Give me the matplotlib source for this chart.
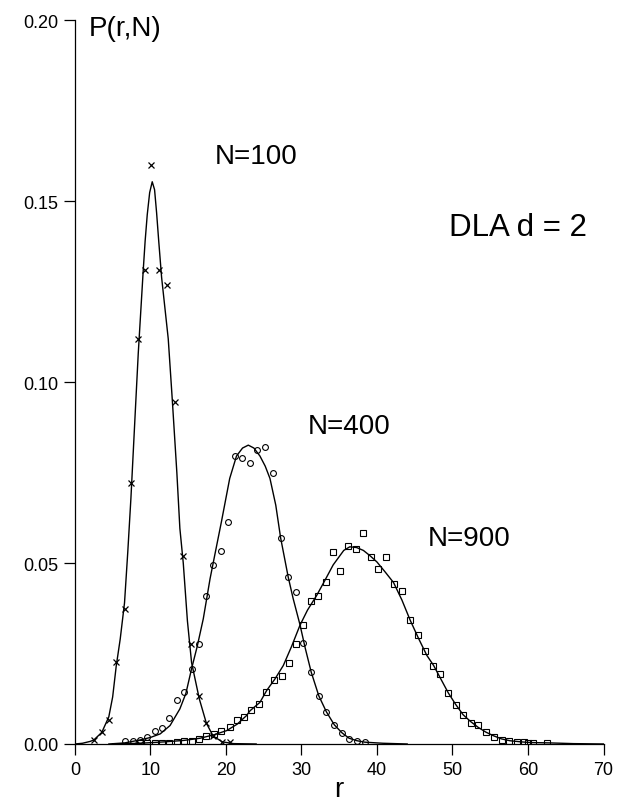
import matplotlib
matplotlib.use("Agg")
from matplotlib import pyplot as plt

plt.rcParams['font.family'] = ['Liberation Sans', 'DejaVu Sans']

# measured points, N=100 (crosses)
r100 = [2.5, 3.56, 4.49, 5.47, 6.57, 7.42, 8.3, 9.27, 10.07, 11.17, 12.2,
        13.25, 14.35, 15.36, 16.47, 17.4, 18.3, 19.5, 20.5]
p100 = [0.0011, 0.0032, 0.0067, 0.0226, 0.0372, 0.072, 0.112, 0.131, 0.160,
        0.131, 0.127, 0.0945, 0.052, 0.0276, 0.0134, 0.0058, 0.0021, 0.0006,
        0.0006]

# N=400 (circles)
r400 = [6.67, 7.64, 8.6, 9.58, 10.6, 11.57, 12.5, 13.55, 14.44, 15.45, 16.47,
        17.3, 18.3, 19.3, 20.3, 21.19, 22.16, 23.18, 24.15, 25.17, 26.2, 27.24,
        28.25, 29.27, 30.24, 31.3, 32.3, 33.3, 34.35, 35.36, 36.3, 37.35, 38.37]
p400 = [0.0007, 0.0007, 0.0012, 0.0019, 0.0035, 0.0043, 0.0071, 0.0122, 0.0143,
        0.0208, 0.0276, 0.0409, 0.0494, 0.0533, 0.0614, 0.0796, 0.079, 0.0776,
        0.0813, 0.0821, 0.0749, 0.057, 0.0461, 0.042, 0.0279, 0.0198, 0.0133,
        0.0089, 0.0053, 0.0031, 0.0014, 0.0009, 0.0006]

# N=900 (squares)
r900 = [8.6, 9.6, 10.6, 11.6, 12.5, 13.5, 14.4, 15.45, 16.47, 17.4, 18.4, 19.4,
        20.5, 21.4, 22.4, 23.3, 24.35, 25.3, 26.4, 27.4, 28.3, 29.3, 30.24,
        31.26, 32.2, 33.24, 34.2, 35.15, 36.2, 37.2, 38.2, 39.2, 40.2, 41.2,
        42.3, 43.35, 44.4, 45.4, 46.36, 47.4, 48.4, 49.45, 50.4, 51.4, 52.45,
        53.4, 54.5, 55.5, 56.5, 57.5, 58.5, 59.5, 60.0, 60.6, 62.5]
p900 = [0.0003, 0.0003, 0.0003, 0.0004, 0.0004, 0.0005, 0.0007, 0.0009, 0.0014,
        0.0023, 0.0028, 0.0035, 0.0047, 0.0065, 0.0074, 0.0094, 0.0111, 0.0145,
        0.0177, 0.0187, 0.0223, 0.0277, 0.033, 0.0395, 0.0408, 0.0448, 0.0532,
        0.0478, 0.0547, 0.054, 0.0584, 0.0518, 0.0485, 0.0518, 0.0442, 0.0424,
        0.0342, 0.030, 0.0258, 0.0215, 0.0193, 0.014, 0.0107, 0.0081, 0.0058,
        0.0053, 0.0032, 0.002, 0.0011, 0.0008, 0.0006, 0.0005, 0.0004, 0.0004,
        0.0003]

# fitted curves
c100_r = [0, 1.0, 2.0, 2.5, 3.56, 4.49, 5.0, 5.47, 6.0, 6.57, 7.0, 7.42, 8.0,
          8.39, 9.05, 9.3, 9.58, 9.9, 10.24, 10.55, 10.82, 11.1, 11.48, 12.36,
          12.9, 13.5, 13.9, 14.35, 14.9, 15.45, 16.47, 17.4, 18.3, 19.5, 21.0,
          24.0]
c100_p = [0, 0.0002, 0.0007, 0.0011, 0.0032, 0.0075, 0.013, 0.0215, 0.029,
          0.039, 0.053, 0.068, 0.092, 0.108, 0.131, 0.139, 0.1463, 0.1524,
          0.1554, 0.1532, 0.1468, 0.139, 0.129, 0.112, 0.095, 0.075, 0.0596,
          0.05, 0.034, 0.0225, 0.0125, 0.0058, 0.0022, 0.0006, 0.0001, 0]

c400_r = [4.5, 6.6, 8.6, 10.0, 11.3, 12.6, 13.9, 14.7, 15.45, 16.2, 17.0, 17.9,
          18.5, 19.4, 20.5, 21.4, 22.2, 22.96, 23.7, 24.5, 25.2, 25.83, 26.6,
          27.24, 28.25, 28.9, 29.8, 30.5, 31.3, 32.3, 33.3, 34.35, 35.36, 36.3,
          37.35, 38.4, 40.8, 44.0]
c400_p = [0, 0.0003, 0.0011, 0.0018, 0.0028, 0.0051, 0.0097, 0.014, 0.0208,
          0.027, 0.0346, 0.0457, 0.052, 0.0614, 0.0734, 0.0796, 0.0818, 0.0826,
          0.0818, 0.0796, 0.0768, 0.0734, 0.066, 0.057, 0.0461, 0.0402, 0.033,
          0.0265, 0.0198, 0.0133, 0.0089, 0.0053, 0.0031, 0.0016, 0.0009,
          0.0005, 0.0002, 0]

c900_r = [5, 8.6, 12, 14.5, 16.6, 18.5, 20.1, 21.5, 22.7, 23.2, 24.5, 25.4,
          26.5, 27.6, 28.7, 29.8, 30.8, 32.0, 33.1, 34.2, 34.9, 35.6, 36.4,
          37.3, 38.2, 39.1, 40.0, 41.1, 42.2, 43.3, 44.4, 45.5, 46.6, 47.5,
          48.5, 49.45, 50.4, 51.4, 52.4, 53.4, 54.4, 55.4, 56.5, 57.6, 59,
          60.3, 62.9, 66, 70]
c900_p = [0, 0.0002, 0.0006, 0.001, 0.0016, 0.0026, 0.0037, 0.0055, 0.0078,
          0.0092, 0.0115, 0.0148, 0.018, 0.0217, 0.027, 0.0328, 0.037, 0.041,
          0.0452, 0.0495, 0.0515, 0.0535, 0.0545, 0.0543, 0.0535, 0.052,
          0.0503, 0.0475, 0.0446, 0.0398, 0.0342, 0.0292, 0.0245, 0.0217,
          0.0178, 0.0141, 0.011, 0.0081, 0.0062, 0.0046, 0.0033, 0.0023,
          0.0014, 0.0009, 0.0006, 0.0004, 0.0003, 0.0001, 0]

xticks = [0, 10, 20, 30, 40, 50, 60, 70]
yticks = [0.00, 0.05, 0.10, 0.15, 0.20]

fig = plt.figure(figsize=(6.19, 8.04), dpi=100)
ax = fig.add_axes([0.121, 0.0734, 0.854, 0.9])

lw = 1.0
ax.plot(c100_r, c100_p, color='black', lw=lw)
ax.plot(c400_r, c400_p, color='black', lw=lw)
ax.plot(c900_r, c900_p, color='black', lw=lw)

ax.plot(r100, p100, ls='none', marker='x', ms=4.5, mew=0.9, color='black')
ax.plot(r400, p400, ls='none', marker='o', ms=4.2, mew=0.8, mfc='none', mec='black')
ax.plot(r900, p900, ls='none', marker='s', ms=4.0, mew=0.8, mfc='none', mec='black')

ax.set_xlim(0, 70)
ax.set_ylim(0, 0.2)
ax.set_xticks(xticks)
ax.set_yticks(yticks)
ax.set_yticklabels(['%.2f' % v for v in yticks])
ax.spines['top'].set_visible(False)
ax.spines['right'].set_visible(False)
for s in ['left', 'bottom']:
    ax.spines[s].set_linewidth(0.9)
ax.tick_params(direction='out', length=8, width=0.9, labelsize=13, pad=4)

ax.set_xlabel('r', fontsize=20, labelpad=-1)

ax.text(1.9, 0.2014, 'P(r,N)', fontsize=20, va='top', ha='left')
ax.text(18.5, 0.1626, 'N=100', fontsize=20, va='center', ha='left')
ax.text(30.9, 0.0878, 'N=400', fontsize=20, va='center', ha='left')
ax.text(46.7, 0.0568, 'N=900', fontsize=20, va='center', ha='left')
ax.text(49.6, 0.1429, 'DLA d = 2', fontsize=22.5, va='center', ha='left')

fig.savefig('out.png', dpi=100)
